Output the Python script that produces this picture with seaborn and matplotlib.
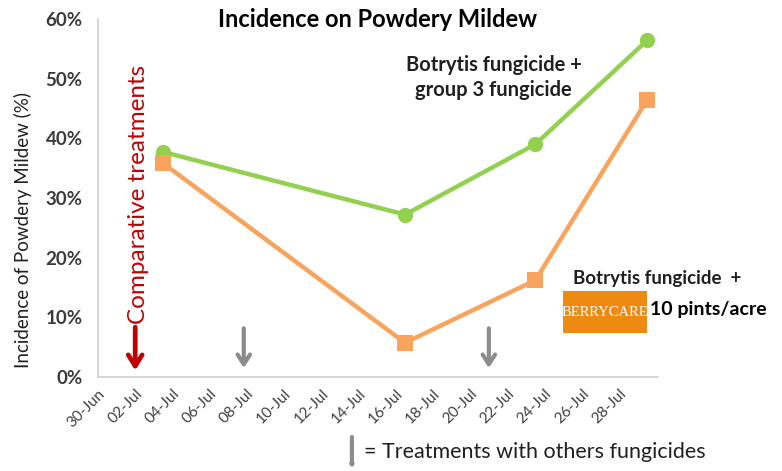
import matplotlib
matplotlib.use("Agg")
import matplotlib.pyplot as plt
import matplotlib.dates as mdates
from matplotlib.patches import Rectangle, FancyArrowPatch
from matplotlib.ticker import PercentFormatter
import pandas as pd
import seaborn as sns

# Data (sampling dates and incidence, %)
dates = pd.to_datetime(["2013-07-03 12:00", "2013-07-16 12:00",
                        "2013-07-23 12:00", "2013-07-29 12:00"])
group3 = [37.7, 27.2, 39.0, 56.4]
berrycare = [35.8, 5.7, 16.2, 46.4]
series_names = ["Botrytis fungicide + group 3 fungicide",
                "Botrytis fungicide + BerryCARE 10 pints/acre"]

comparative_date = pd.Timestamp("2013-07-02")
other_dates = pd.to_datetime(["2013-07-07 20:00", "2013-07-21 00:00"])

df = pd.DataFrame({
    "date": list(dates) * 2,
    "incidence": group3 + berrycare,
    "treatment": [series_names[0]] * 4 + [series_names[1]] * 4,
})

sns.set_style("white")
plt.rcParams["font.family"] = ["Lato", "DejaVu Sans"]

green = "#92D050"
orange = "#F9A45C"

fig = plt.figure(figsize=(7.82, 4.71), dpi=100)
ax = fig.add_axes([0.1253, 0.2, 0.716, 0.7597])

sns.lineplot(
    data=df, x="date", y="incidence", hue="treatment", style="treatment",
    palette=[green, orange], markers=["o", "s"], dashes=False,
    linewidth=3.2, markersize=11, markeredgewidth=0, legend=False, ax=ax,
)

ax.set_xlim(pd.Timestamp("2013-06-30"), pd.Timestamp("2013-07-30 02:00"))
ax.set_ylim(0, 60)
ticks = list(pd.date_range("2013-06-30", "2013-07-28", freq="2D"))
ax.set_xticks(ticks)
ax.xaxis.set_major_formatter(mdates.DateFormatter("%d-%b"))
ax.yaxis.set_major_locator(plt.MultipleLocator(10))
ax.yaxis.set_major_formatter(PercentFormatter(decimals=0))

for side in ["top", "right"]:
    ax.spines[side].set_visible(False)
for side in ["left", "bottom"]:
    ax.spines[side].set_color("#D0D0D0")
    ax.spines[side].set_linewidth(1.2)

ax.tick_params(axis="x", direction="out", length=5, color="#D0D0D0",
               labelsize=11, labelcolor="#404040", pad=2)
ax.tick_params(axis="y", direction="out", length=5, color="#D0D0D0",
               labelsize=13.5, labelcolor="#3A3A3A", pad=6)
for lab in ax.get_yticklabels():
    lab.set_fontweight("bold")
plt.setp(ax.get_xticklabels(), rotation=45, ha="right", rotation_mode="anchor")

ax.set_xlabel("")
ax.set_ylabel("Incidence of Powdery Mildew (%)", fontsize=13.5, color="#202020")
ax.yaxis.set_label_coords(-0.118, 0.41)
ax.set_title("Incidence on Powdery Mildew", fontsize=17, fontweight="bold",
             color="black", x=0.5, y=0.955)

# Comparative treatments marker
ax.text(comparative_date + pd.Timedelta(hours=4), 8.8, "Comparative treatments",
        rotation=90, color="#C00000", fontsize=17.5, ha="center", va="bottom")
ax.annotate("", xy=(comparative_date, 0.6), xytext=(comparative_date, 8.8),
            arrowprops=dict(arrowstyle="->,head_width=0.5,head_length=0.8",
                            color="#C00000", lw=3.4))

# Other fungicide treatments
for d in other_dates:
    ax.annotate("", xy=(d, 1.0), xytext=(d, 8.6),
                arrowprops=dict(arrowstyle="->,head_width=0.45,head_length=0.7",
                                color="#8C8C8C", lw=3))

# Series labels
ax.text(pd.Timestamp("2013-07-21 06:00"), 50.2,
        "Botrytis fungicide +\ngroup 3 fungicide",
        ha="center", va="center", fontsize=14.5, fontweight="bold",
        color="#202020", linespacing=1.35)

fig.text(0.733, 0.408, "Botrytis fungicide  +", fontsize=13.5,
         fontweight="bold", color="#202020", ha="left", va="center")
fig.patches.append(Rectangle((0.72, 0.293), 0.107, 0.09,
                             transform=fig.transFigure, facecolor="#EE8A12",
                             edgecolor="none"))
fig.text(0.7735, 0.336, "BERRYCARE", family="Liberation Serif", fontsize=10.5,
         color="white", ha="center", va="center")
fig.text(0.831, 0.342, "10 pints/acre", fontsize=14, fontweight="bold",
         color="black", ha="left", va="center")

# Bottom legend for grey arrows
fig.add_artist(FancyArrowPatch(
    (0.45, 0.078), (0.45, 0.0), transform=fig.transFigure,
    arrowstyle="->,head_width=0.45,head_length=0.7", color="#8C8C8C", lw=3))
fig.text(0.465, 0.04, "= Treatments with others fungicides", fontsize=15.5,
         color="#202020", ha="left", va="center")

fig.savefig("out.png", dpi=100)
